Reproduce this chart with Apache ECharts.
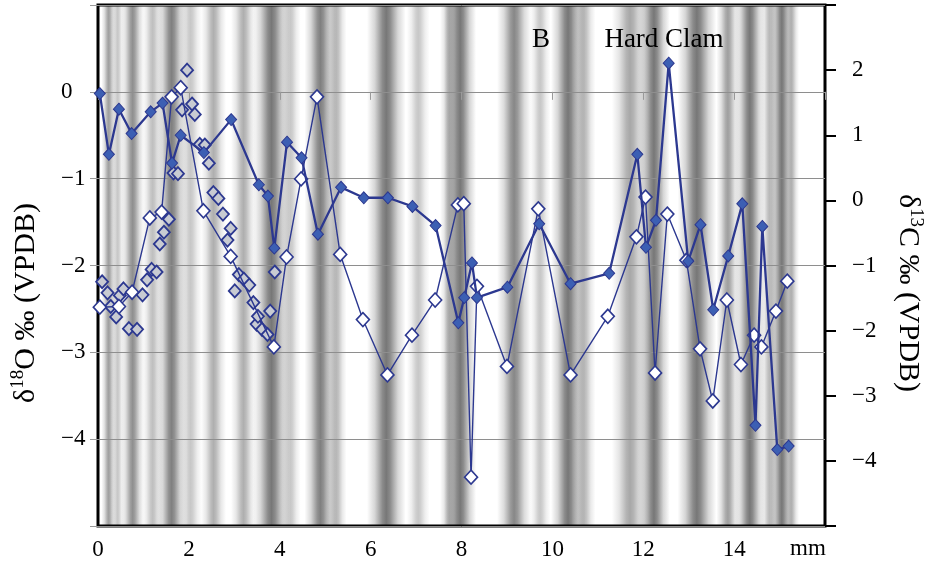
<!DOCTYPE html>
<html>
<head>
<meta charset="utf-8">
<script src="https://cdn.jsdelivr.net/npm/echarts@6/dist/echarts.min.js"></script>
<style>
  html, body { margin: 0; padding: 0; background: #fff; }
  #chart { width: 929px; height: 575px; }
</style>
</head>
<body>
<div id="chart"></div>
<script>
// Distance along the shell section (mm) and isotope values
const o18Mm  = [0.04, 0.24, 0.46, 0.74, 1.16, 1.42, 1.63, 1.82, 2.33, 2.93, 3.54, 3.74, 3.88, 4.16, 4.48, 4.84, 5.35, 5.85, 6.38, 6.92, 7.43, 7.93, 8.06, 8.23, 8.34, 9.01, 9.71, 10.40, 11.25, 11.87, 12.06, 12.28, 12.56, 12.99, 13.26, 13.54, 13.87, 14.18, 14.47, 14.62, 14.95, 15.20];
const o18Val = [-0.02, -0.72, -0.20, -0.48, -0.23, -0.13, -0.82, -0.50, -0.70, -0.32, -1.07, -1.20, -1.80, -0.58, -0.76, -1.64, -1.10, -1.22, -1.22, -1.32, -1.54, -2.66, -2.37, -1.97, -2.37, -2.25, -1.52, -2.21, -2.09, -0.72, -1.79, -1.48, 0.33, -1.95, -1.53, -2.51, -1.89, -1.29, -3.84, -1.55, -4.12, -4.08];

const c13Mm  = [0.04, 0.46, 0.75, 1.14, 1.40, 1.62, 1.82, 2.32, 2.92, 3.87, 4.15, 4.47, 4.82, 5.33, 5.83, 6.37, 6.91, 7.42, 7.92, 8.05, 8.21, 8.34, 9.00, 9.69, 10.40, 11.22, 11.85, 12.05, 12.26, 12.53, 12.95, 13.25, 13.53, 13.84, 14.15, 14.44, 14.60, 14.92, 15.17];
const c13Val = [-1.64, -1.63, -1.41, -0.27, -0.18, 1.59, 1.73, -0.16, -0.86, -2.25, -0.87, 0.33, 1.59, -0.83, -1.83, -2.68, -2.07, -1.53, -0.07, -0.05, -4.25, -1.32, -2.55, -0.13, -2.68, -1.78, -0.56, 0.05, -2.65, -0.21, -0.92, -2.28, -3.08, -1.53, -2.52, -2.07, -2.25, -1.70, -1.24];

// High-resolution micro-samples near the umbo
const c13HiMm  = [0.09, 0.21, 0.28, 0.40, 0.48, 0.56, 0.68, 0.86, 0.98, 1.08, 1.18, 1.29, 1.36, 1.45, 1.56, 1.66, 1.76, 1.85, 1.96, 2.07, 2.13, 2.24, 2.35, 2.44, 2.54, 2.65, 2.75, 2.85, 2.92, 3.01, 3.10, 3.21, 3.33, 3.42, 3.49, 3.52, 3.61, 3.73, 3.79, 3.89];
const c13HiVal = [-1.25, -1.42, -1.63, -1.79, -1.46, -1.36, -1.97, -1.98, -1.45, -1.22, -1.06, -1.10, -0.67, -0.49, -0.29, 0.42, 0.41, 1.39, 2.00, 1.48, 1.32, 0.86, 0.85, 0.57, 0.12, 0.03, -0.21, -0.61, -0.43, -1.39, -1.14, -1.21, -1.30, -1.57, -1.90, -1.78, -1.98, -2.06, -1.70, -1.10];

// Growth bands in the shell section: centre (mm), width (mm), darkness
const bandMm    = [0.235, 0.433, 0.763, 1.202, 1.620, 2.037, 2.543, 3.202, 3.818, 4.235, 4.895, 5.246, 6.345, 7.048, 7.730, 7.971, 9.158, 9.730, 10.345, 10.697, 11.708, 12.235, 13.180, 13.862, 14.345, 14.785, 15.049, 15.268];
const bandWidth = [0.32, 0.28, 0.50, 0.45, 0.65, 0.50, 0.55, 0.55, 0.80, 0.45, 0.70, 0.45, 0.85, 0.50, 0.40, 0.70, 0.75, 0.45, 0.75, 0.50, 0.80, 0.70, 0.85, 0.50, 0.65, 0.40, 0.50, 0.32];
const bandShade = [0.6, 0.35, 0.7, 0.4, 0.8, 0.35, 0.5, 0.5, 0.85, 0.35, 0.8, 0.45, 0.85, 0.35, 0.45, 0.85, 0.75, 0.35, 0.85, 0.45, 0.55, 0.85, 0.85, 0.6, 0.85, 0.45, 0.85, 0.45];

const FONT = 'Liberation Serif';
const NAVY = '#2C3890';

const pairs = (xs, ys) => xs.map((x, i) => [x, ys[i]]);
const minus = v => (v < 0 ? '\u2212' + Math.abs(v) : String(v));

const bandData = bandMm.map((c, i) => [c, 0, bandWidth[i], bandShade[i]]);

const titleRich = {
  m: { fontFamily: FONT, fontSize: 30, fill: '#000', lineHeight: 34 },
  s: { fontFamily: FONT, fontSize: 19, fill: '#000', lineHeight: 34, verticalAlign: 'top', padding: [0, 0, 11, 0] }
};

const chart = echarts.init(document.getElementById('chart'), null, { renderer: 'canvas' });

chart.setOption({
  animation: false,
  backgroundColor: '#fff',
  grid: {
    left: 98, right: 104, top: 5, bottom: 49,
    show: true, borderColor: '#000', borderWidth: 3,
    backgroundColor: 'transparent', z: 2
  },
  xAxis: {
    type: 'value', min: 0, max: 16, interval: 2,
    axisLine: { show: false },
    axisTick: { show: true, length: 8, lineStyle: { color: '#999', width: 1 } },
    axisLabel: {
      margin: 12, color: '#000', fontFamily: FONT, fontSize: 23,
      formatter: v => (v === 16 ? '' : String(v))
    },
    splitLine: { show: false },
    z: 2
  },
  yAxis: [
    {
      type: 'value', min: -5, max: 1, interval: 1, position: 'left',
      axisLine: { show: false },
      axisTick: { show: true, length: 8, lineStyle: { color: '#999', width: 1 } },
      axisLabel: {
        margin: 37, align: 'left', color: '#000', fontFamily: FONT, fontSize: 23,
        formatter: v => (v === 1 || v === -5 ? '' : minus(v))
      },
      splitLine: { show: true, lineStyle: { color: '#8e8e8e', width: 1 } },
      z: 2
    },
    {
      type: 'value', min: -5, max: 3, interval: 1, position: 'right',
      axisLine: { show: false },
      axisTick: { show: true, length: 11, lineStyle: { color: '#000', width: 2 } },
      axisLabel: {
        margin: 27, color: '#000', fontFamily: FONT, fontSize: 23,
        formatter: v => (v === 3 || v === -5 ? '' : minus(v))
      },
      splitLine: { show: false },
      z: 2
    }
  ],
  graphic: [
    {
      type: 'text', x: 26, y: 303, rotation: Math.PI / 2, z: 20,
      style: { text: '{m|δ}{s|18}{m|O ‰ (VPDB)}', align: 'center', verticalAlign: 'middle', rich: titleRich }
    },
    {
      type: 'text', x: 908, y: 293, rotation: -Math.PI / 2, z: 20,
      style: { text: '{m|δ}{s|13}{m|C ‰ (VPDB)}', align: 'center', verticalAlign: 'middle', rich: titleRich }
    },
    {
      type: 'text', x: 541, y: 40, z: 20,
      style: { text: 'B', font: '27px "Liberation Serif"', fill: '#000', align: 'center', verticalAlign: 'middle' }
    },
    {
      type: 'text', x: 664, y: 40, z: 20,
      style: { text: 'Hard Clam', font: '27px "Liberation Serif"', fill: '#000', align: 'center', verticalAlign: 'middle' }
    },
    {
      type: 'text', x: 808, y: 549, z: 20,
      style: { text: 'mm', font: '23px "Liberation Serif"', fill: '#000', align: 'center', verticalAlign: 'middle' }
    }
  ],
  series: [
    {
      // shaded growth bands behind the profiles
      type: 'custom', silent: true, z: 1, clip: true,
      xAxisIndex: 0, yAxisIndex: 0,
      encode: { x: 0, y: 1 },
      data: bandData,
      renderItem: (params, api) => {
        const c = api.value(0), w = api.value(2), d = api.value(3);
        const p0 = api.coord([c - w / 2, 0]);
        const p1 = api.coord([c + w / 2, 0]);
        const cs = params.coordSys;
        const g = a => 'rgba(95,95,95,' + a.toFixed(3) + ')';
        return {
          type: 'rect',
          shape: { x: p0[0], y: cs.y, width: p1[0] - p0[0], height: cs.height },
          style: {
            fill: new echarts.graphic.LinearGradient(0, 0, 1, 0, [
              { offset: 0, color: g(0) },
              { offset: 0.2, color: g(d * 0.3) },
              { offset: 0.4, color: g(d * 0.85) },
              { offset: 0.5, color: g(d) },
              { offset: 0.6, color: g(d * 0.85) },
              { offset: 0.8, color: g(d * 0.3) },
              { offset: 1, color: g(0) }
            ])
          }
        };
      }
    },
    {
      name: 'δ13C micro-samples', type: 'scatter', yAxisIndex: 1, z: 3,
      symbol: 'diamond', symbolSize: [12, 13],
      itemStyle: { color: '#c8cbd2', borderColor: NAVY, borderWidth: 1.8, opacity: 1 },
      data: pairs(c13HiMm, c13HiVal)
    },
    {
      name: 'δ13C', type: 'line', yAxisIndex: 1, z: 4,
      symbol: 'diamond', symbolSize: [13, 14],
      lineStyle: { color: NAVY, width: 1.4 },
      itemStyle: { color: '#ffffff', borderColor: NAVY, borderWidth: 1.6 },
      data: pairs(c13Mm, c13Val)
    },
    {
      name: 'δ18O', type: 'line', yAxisIndex: 0, z: 5,
      symbol: 'diamond', symbolSize: [11, 12],
      lineStyle: { color: NAVY, width: 2.3 },
      itemStyle: { color: '#3c5fb3', borderColor: NAVY, borderWidth: 1 },
      data: pairs(o18Mm, o18Val)
    }
  ]
});
</script>
</body>
</html>
